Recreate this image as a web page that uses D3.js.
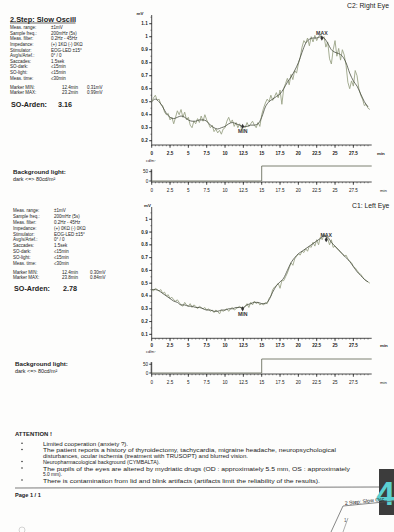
<!DOCTYPE html>
<html><head><meta charset="utf-8">
<script src="https://cdn.jsdelivr.net/npm/d3@7"></script>
<style>
html,body{margin:0;padding:0;background:#fff;}
svg{display:block;font-family:"Liberation Sans",Arial,sans-serif;}
</style></head><body>
<svg id="c" width="394" height="532"></svg>
<script>
// ---------- DATA ----------
const xTicks = [0, 2.5, 5, 7.5, 10, 12.5, 15, 17.5, 20, 22.5, 25, 27.5];
const xTickLabels = ["0", "2.5", "5", "7.5", "10", "12.5", "15", "17.5", "20", "22.5", "25", "27.5"];
const rightYTicks = [0.2, 0.3, 0.4, 0.5, 0.6, 0.7, 0.8, 0.9, 1, 1.1];
const leftYTicks = [0.1, 0.2, 0.3, 0.4, 0.5, 0.6, 0.7, 0.8, 0.9, 1];
const rawStep = 0.25;   // min between raw samples
const smoothStep = 0.5; // min between smoothed samples

const rightRaw = [0.50,0.53,0.55,0.51,0.52,0.48,0.47,0.42,0.40,0.41,0.36,0.38,0.33,0.38,0.43,0.40,
  0.44,0.38,0.42,0.36,0.38,0.32,0.30,0.35,0.33,0.37,0.34,0.39,0.35,0.40,0.36,0.33,
  0.30,0.32,0.27,0.29,0.26,0.28,0.25,0.29,0.30,0.35,0.38,0.34,0.36,0.31,0.34,0.30,
  0.33,0.29,0.31,0.30,0.34,0.31,0.33,0.35,0.32,0.30,0.34,0.31,0.40,0.45,0.49,0.52,
  0.50,0.55,0.51,0.54,0.57,0.53,0.59,0.48,0.60,0.64,0.68,0.63,0.71,0.67,0.74,0.72,
  0.79,0.84,0.92,0.97,0.95,0.99,0.93,1.00,0.96,1.01,0.97,1.00,1.02,0.98,1.00,0.92,
  0.96,0.83,0.79,0.90,0.97,0.85,0.91,0.82,0.90,0.86,0.78,0.65,0.60,0.66,0.62,0.74,
  0.70,0.60,0.55,0.52,0.47,0.48,0.45,0.44];
const rightSmooth = [0.50,0.52,0.50,0.46,0.41,0.38,0.37,0.38,0.39,0.38,0.36,0.35,0.35,0.36,0.36,0.35,
  0.32,0.30,0.29,0.30,0.31,0.33,0.34,0.33,0.32,0.31,0.31,0.32,0.32,0.33,0.38,0.46,
  0.50,0.52,0.54,0.56,0.60,0.65,0.69,0.74,0.80,0.88,0.95,0.98,0.99,0.99,1.00,0.99,
  0.95,0.90,0.88,0.87,0.85,0.80,0.72,0.66,0.62,0.56,0.50,0.46];
const leftRaw = [0.45,0.44,0.46,0.45,0.44,0.45,0.42,0.43,0.40,0.41,0.38,0.39,0.37,0.36,0.37,0.35,
  0.33,0.32,0.35,0.33,0.32,0.34,0.31,0.33,0.32,0.30,0.32,0.31,0.30,0.31,0.29,0.30,
  0.28,0.29,0.27,0.29,0.28,0.26,0.29,0.28,0.29,0.30,0.28,0.30,0.31,0.29,0.30,0.31,
  0.32,0.30,0.31,0.32,0.34,0.31,0.35,0.33,0.36,0.34,0.35,0.33,0.34,0.33,0.35,0.34,
  0.38,0.40,0.45,0.47,0.48,0.50,0.46,0.52,0.52,0.55,0.58,0.62,0.66,0.64,0.69,0.71,
  0.73,0.72,0.75,0.74,0.77,0.75,0.79,0.78,0.82,0.79,0.84,0.80,0.86,0.84,0.88,0.86,
  0.85,0.80,0.84,0.78,0.79,0.77,0.76,0.74,0.73,0.71,0.72,0.69,0.67,0.66,0.63,0.62,
  0.60,0.58,0.57,0.55,0.53,0.52,0.51,0.50];
const leftSmooth = [0.45,0.45,0.44,0.42,0.40,0.38,0.36,0.35,0.33,0.33,0.32,0.32,0.31,0.31,0.30,0.29,
  0.29,0.28,0.28,0.29,0.29,0.30,0.30,0.31,0.31,0.31,0.33,0.34,0.35,0.35,0.34,0.34,
  0.37,0.43,0.48,0.51,0.54,0.60,0.66,0.70,0.73,0.75,0.77,0.79,0.81,0.83,0.85,0.87,
  0.86,0.82,0.79,0.76,0.73,0.70,0.67,0.63,0.59,0.56,0.53,0.51];

const lightTime = [0, 15, 15, 30];
const lightLevel = [0, 0, 80, 80];
const lightTicks = [0, 50];

const infoLabels = ["Meas. range:", "Sample freq.:", "Meas. filter:", "Impedance:", "Stimulator:",
  "Avg/s/Artef.:", "Saccades:", "SO-dark:", "SO-light:", "Meas. time:"];
const rightInfo = ["±1mV", "200mHz (5s)", "0.2Hz - 45Hz", "(+) 1KΩ (-) 0KΩ", "EOG-LED ±15°",
  "0° / 0", "1.5sek", "≤15min", "≤15min", "≤30min"];
const leftInfo = ["±1mV", "200mHz (5s)", "0.2Hz - 45Hz", "(+) 0KΩ (-) 0KΩ", "EOG-LED ±15°",
  "0° / 0", "1.5sek", "≤15min", "≤15min", "≤30min"];
const rightMarkerTime = [12.4, 23.2];
const rightMarkerValue = [0.31, 0.99];
const leftMarkerTime = [12.4, 23.8];
const leftMarkerValue = [0.30, 0.84];
const markerNames = ["MIN", "MAX"];
const rightArden = "3.16";
const leftArden = "2.78";

const attention = [
  "Limited cooperation (anxiety ?).",
  "The patient reports a history of thyroidectomy, tachycardia, migraine headache, neuropsychological",
  "disturbances, ocular ischemia (treatment with TRUSOPT) and blurred vision.",
  "Neuropharmacological background (CYMBALTA).",
  "The  pupils of the eyes are altered by mydriatic drugs (OD : approximately 5.5 mm, OS : approximately",
  "5.0 mm).",
  "There is contamination from lid and blink artifacts (artifacts limit the reliability of the results)."
];
const attentionBullet = [true, true, false, true, true, false, true];

// ---------- DRAW ----------
const svg = d3.select("#c");
svg.append("rect").attr("width", 394).attr("height", 532).attr("fill", "#fdfdfc");
const ink = "#222";
const rawColor = "#9ba487";
const smoothColor = "#474c3f";

function txt(x, y, s, size, opts = {}) {
  return svg.append("text").attr("x", x).attr("y", y).text(s)
    .attr("font-size", size).attr("fill", opts.fill || ink)
    .attr("font-weight", opts.bold ? "bold" : null)
    .attr("text-anchor", opts.anchor || "start")
    .attr("dominant-baseline", "central");
}

function xAxis(x, yPos, labelY, bold) {
  const g = svg.append("g");
  g.append("line").attr("x1", x(0)).attr("x2", x(30)).attr("y1", yPos).attr("y2", yPos)
    .attr("stroke", ink).attr("stroke-width", 0.8);
  g.selectAll("line.mn").data(d3.range(0, 60).map(i => i * 0.5)).join("line")
    .attr("x1", d => x(d)).attr("x2", d => x(d)).attr("y1", yPos).attr("y2", yPos + 1.3)
    .attr("stroke", ink).attr("stroke-width", 0.5);
  g.selectAll("line.mj").data(xTicks).join("line")
    .attr("x1", d => x(d)).attr("x2", d => x(d)).attr("y1", yPos).attr("y2", yPos + 2.8)
    .attr("stroke", ink).attr("stroke-width", 0.8);
  xTicks.forEach((t, i) => txt(x(t), labelY, xTickLabels[i], 4.6, {anchor: "middle", bold}));
}

function eogChart(cfg) {
  const x = d3.scaleLinear().domain([0, 30]).range([151.7, 371.7]);
  const y = d3.scaleLinear().domain(cfg.yDomain).range(cfg.yRange);
  svg.append("line").attr("x1", x(0)).attr("x2", x(0)).attr("y1", cfg.yRange[0]).attr("y2", cfg.yRange[1])
    .attr("stroke", ink).attr("stroke-width", 0.8);
  const minor = d3.range(Math.ceil(cfg.yDomain[0] * 20), Math.floor(cfg.yDomain[1] * 20) + 1).map(i => i / 20);
  svg.selectAll(null).data(minor).join("line")
    .attr("x1", x(0) - 1.3).attr("x2", x(0)).attr("y1", d => y(d)).attr("y2", d => y(d))
    .attr("stroke", ink).attr("stroke-width", 0.5);
  svg.selectAll(null).data(cfg.yTicks).join("line")
    .attr("x1", x(0) - 2.6).attr("x2", x(0)).attr("y1", d => y(d)).attr("y2", d => y(d))
    .attr("stroke", ink).attr("stroke-width", 0.8);
  cfg.yTicks.forEach(t => txt(x(0) - 4, y(t), String(t), 4.6, {anchor: "end", bold: true}));
  txt(cfg.mvX, cfg.mvY, "mV", 4.4, {bold: true});
  xAxis(x, cfg.yRange[0], cfg.xLabelY, true);
  txt(cfg.minX, cfg.xLabelY, "min", 4.4, {bold: true});
  txt(cfg.titleX, cfg.titleY, cfg.title, 6.8);
  const rawLine = d3.line().x((d, i) => x(i * rawStep)).y(d => y(d));
  svg.append("path").attr("d", rawLine(cfg.raw)).attr("fill", "none")
    .attr("stroke", rawColor).attr("stroke-width", 0.9).attr("stroke-linejoin", "round");
  const smLine = d3.line().curve(d3.curveMonotoneX).x((d, i) => x(i * smoothStep)).y(d => y(d));
  svg.append("path").attr("d", smLine(cfg.smooth)).attr("fill", "none")
    .attr("stroke", smoothColor).attr("stroke-width", 0.8);
  cfg.mTime.forEach((t, i) => {
    const px = x(t), py = y(cfg.mValue[i]);
    svg.append("path").attr("d", d3.symbol(d3.symbolDiamond, 8)())
      .attr("transform", `translate(${px},${py})`).attr("fill", "#333");
    txt(px, markerNames[i] === "MAX" ? py - 5 : py + 5, markerNames[i], 5.2, {anchor: "middle", bold: true, fill: "#333"});
  });
}

function lightChart(cfg) {
  const x = d3.scaleLinear().domain([0, 30]).range([151.7, 371.7]);
  const y = d3.scaleLinear().domain([0, 80]).range(cfg.yRange);
  svg.append("line").attr("x1", x(0)).attr("x2", x(0)).attr("y1", cfg.axisY).attr("y2", y(62))
    .attr("stroke", ink).attr("stroke-width", 0.8);
  svg.selectAll(null).data(d3.range(0, 13).map(i => i * 5)).join("line")
    .attr("x1", x(0) - 1.2).attr("x2", x(0)).attr("y1", d => y(d)).attr("y2", d => y(d))
    .attr("stroke", ink).attr("stroke-width", 0.4);
  lightTicks.forEach(t => {
    svg.append("line").attr("x1", x(0) - 2.5).attr("x2", x(0)).attr("y1", y(t)).attr("y2", y(t))
      .attr("stroke", ink).attr("stroke-width", 0.8);
    txt(x(0) - 3.5, y(t), String(t), 4.6, {anchor: "end"});
  });
  txt(cfg.unitX, cfg.unitY, "cd/m²", 3.8);
  xAxis(x, cfg.axisY, cfg.xLabelY, false);
  txt(380, cfg.xLabelY, "min", 4.2);
  const pts = lightTime.map((t, i) => [t, lightLevel[i]]);
  svg.append("path").attr("d", d3.line().x(d => x(d[0])).y(d => y(d[1]))(pts))
    .attr("fill", "none").attr("stroke", "#6d7262").attr("stroke-width", 0.9);
  txt(cfg.textX, cfg.textY, "Background light:", 6.2, {bold: true});
  txt(cfg.textX, cfg.textY + 8, "dark <=> 80cd/m²", 5.4);
}

function infoBlock(cfg) {
  infoLabels.forEach((l, i) => {
    txt(cfg.x, cfg.y0 + i * cfg.dy, l, 4.5);
    txt(cfg.vx, cfg.y0 + i * cfg.dy, cfg.values[i], 4.5);
  });
  markerNames.forEach((n, i) => {
    const yy = cfg.my + i * 5.2;
    txt(cfg.x, yy, "Marker " + n + ":", 4.5);
    txt(cfg.mx1, yy, cfg.mTime[i] + "min", 4.5);
    txt(cfg.mx2, yy, cfg.mValue[i].toFixed(2) + "mV", 4.5);
  });
  txt(cfg.x + 1, cfg.ay, "SO-Arden:", 7.2, {bold: true});
  txt(cfg.ax, cfg.ay, cfg.arden, 7.2, {bold: true});
}

// header
txt(10, 19, "2.Step: Slow Oscill", 7.4, {bold: true});
svg.append("line").attr("x1", 10).attr("x2", 75.5).attr("y1", 23).attr("y2", 23)
  .attr("stroke", ink).attr("stroke-width", 0.7);

infoBlock({x: 10, vx: 51, y0: 27.7, dy: 5.6, values: rightInfo, my: 87, mx1: 62, mx2: 87,
  mTime: rightMarkerTime, mValue: rightMarkerValue, ay: 104, ax: 58, arden: rightArden});
infoBlock({x: 13, vx: 54, y0: 210.7, dy: 5.85, values: leftInfo, my: 272.5, mx1: 62, mx2: 90,
  mTime: leftMarkerTime, mValue: leftMarkerValue, ay: 288.5, ax: 63, arden: leftArden});

eogChart({yDomain: [0.167, 1.167], yRange: [145, 15], yTicks: rightYTicks, raw: rightRaw, smooth: rightSmooth,
  mvX: 136.5, mvY: 13, xLabelY: 153.3, minX: 377, title: "C2: Right Eye", titleX: 347, titleY: 5.5,
  mTime: rightMarkerTime, mValue: rightMarkerValue});
eogChart({yDomain: [0.069, 1.096], yRange: [338.3, 207], yTicks: leftYTicks, raw: leftRaw, smooth: leftSmooth,
  mvX: 144, mvY: 205, xLabelY: 345, minX: 380, title: "C1: Left Eye", titleX: 352, titleY: 205.5,
  mTime: leftMarkerTime, mValue: leftMarkerValue});

lightChart({yRange: [181, 166], axisY: 182, xLabelY: 190, unitX: 146, unitY: 160.7, textX: 13, textY: 171});
lightChart({yRange: [373, 359], axisY: 374, xLabelY: 382, unitX: 146, unitY: 351.7, textX: 15, textY: 363});

// attention
txt(15, 433.5, "ATTENTION !", 5.9, {bold: true});
const lineYs = [443.3, 449.5, 455, 461.5, 468, 473.5, 480];
const lineEnds = [128, 336, 248, 160, 350, 62, 320];
attention.forEach((s, i) => {
  if (attentionBullet[i]) svg.append("circle").attr("cx", 22).attr("cy", lineYs[i]).attr("r", 0.75).attr("fill", ink);
  txt(43, lineYs[i], s, 6.2).attr("textLength", lineEnds[i] - 43).attr("lengthAdjust", "spacingAndGlyphs");
});
svg.append("line").attr("x1", 15).attr("x2", 380).attr("y1", 488).attr("y2", 487)
  .attr("stroke", "#444").attr("stroke-width", 0.7);
txt(15, 495, "Page 1 / 1", 5.6, {bold: true});

// page tab & side number
svg.append("rect").attr("x", 379).attr("y", 469).attr("width", 15).attr("height", 46).attr("fill", "#3c3c3c");
txt(376, 493, "4", 34, {bold: true, fill: "#5ccfd0"});
svg.append("path").attr("d", "M331,532 L343,506 L394,501").attr("fill", "none").attr("stroke", "#555").attr("stroke-width", 0.7);
svg.append("path").attr("d", "M343,532 L348,518").attr("fill", "none").attr("stroke", "#777").attr("stroke-width", 0.6);
svg.append("text").attr("x", 345).attr("y", 505).attr("font-size", 5.2).attr("fill", ink)
  .attr("transform", "rotate(-6,345,505)").text("2 Step: Slow Osc");
txt(344, 520, "1", 4.5, {fill: "#555"});
svg.append("circle").attr("cx", 22).attr("cy", 530).attr("r", 3).attr("fill", "none").attr("stroke", "#aaa").attr("stroke-width", 0.5);
</script>
</body></html>
